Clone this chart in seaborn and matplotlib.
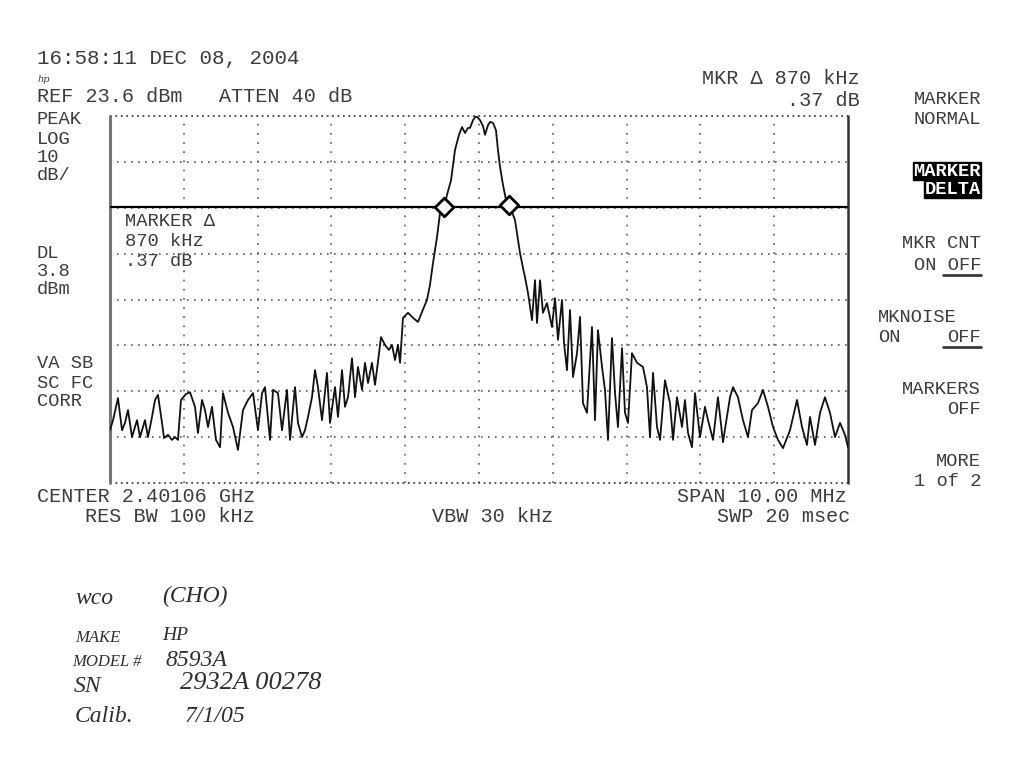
import matplotlib
matplotlib.use("Agg")
import matplotlib.pyplot as plt
from matplotlib.lines import Line2D
import seaborn as sns
import pandas as pd

# ---------------- data ----------------
center_ghz = 2.40106
span_mhz = 10.0
ref_level_dbm = 23.6
db_per_div = 10
display_line_dbm = 3.8

# trace: frequency offset from center (MHz) and level (dBm)
freq_offset_mhz = [
    -5.000, -4.959, -4.892, -4.837, -4.797, -4.756, -4.702, -4.634, -4.593, -4.526,
    -4.485, -4.431, -4.390, -4.350, -4.295, -4.268, -4.214, -4.160, -4.119, -4.079,
    -4.038, -3.970, -3.916, -3.848, -3.808, -3.753, -3.713, -3.672, -3.618, -3.564,
    -3.509, -3.469, -3.401, -3.333, -3.266, -3.198, -3.130, -3.062, -2.995, -2.940,
    -2.900, -2.832, -2.791, -2.724, -2.669, -2.602, -2.561, -2.493, -2.453, -2.398,
    -2.358, -2.317, -2.263, -2.222, -2.182, -2.127, -2.060, -2.019, -1.951, -1.911,
    -1.856, -1.816, -1.775, -1.721, -1.680, -1.640, -1.585, -1.545, -1.504, -1.450,
    -1.409, -1.369, -1.328, -1.274, -1.220, -1.179, -1.138, -1.098, -1.070, -1.030,
    -0.962, -0.894, -0.827, -0.772, -0.705, -0.664, -0.623, -0.569, -0.528, -0.470,
    -0.434, -0.379, -0.325, -0.271, -0.230, -0.190, -0.149, -0.122, -0.081, -0.041,
    -0.014, 0.014, 0.054, 0.081, 0.122, 0.149, 0.190, 0.230, 0.257, 0.285,
    0.325, 0.366, 0.400, 0.447, 0.488, 0.528, 0.556, 0.596, 0.623, 0.664,
    0.718, 0.759, 0.786, 0.827, 0.867, 0.921, 0.989, 1.030, 1.070, 1.125,
    1.152, 1.192, 1.233, 1.274, 1.328, 1.369, 1.409, 1.463, 1.531, 1.572,
    1.612, 1.667, 1.707, 1.748, 1.802, 1.843, 1.883, 1.938, 1.978, 2.019,
    2.073, 2.141, 2.222, 2.276, 2.317, 2.358, 2.412, 2.453, 2.520, 2.588,
    2.629, 2.683, 2.751, 2.791, 2.832, 2.886, 2.927, 2.995, 3.062, 3.103,
    3.171, 3.238, 3.306, 3.401, 3.442, 3.509, 3.577, 3.645, 3.699, 3.780,
    3.848, 3.916, 3.984, 4.051, 4.119, 4.214, 4.309, 4.377, 4.444, 4.485,
    4.553, 4.621, 4.688, 4.756, 4.824, 4.892, 4.959, 5.000,
]
level_dbm = [
    -44.9, -42.7, -37.9, -44.9, -43.3, -40.5, -46.4, -42.7, -46.4, -42.7,
    -46.4, -42.0, -38.3, -37.2, -43.3, -46.6, -45.9, -47.0, -46.4, -47.0,
    -38.3, -37.0, -36.6, -39.8, -45.5, -38.3, -40.5, -44.2, -39.8, -47.0,
    -48.6, -36.8, -41.1, -44.2, -49.2, -40.5, -38.3, -36.8, -44.9, -36.8,
    -35.5, -47.0, -36.1, -36.8, -44.9, -36.1, -47.0, -35.5, -43.3, -46.4,
    -44.9, -42.0, -37.7, -31.8, -35.5, -42.7, -32.4, -43.3, -35.5, -42.0,
    -31.8, -39.8, -37.7, -29.2, -37.7, -31.1, -36.1, -30.2, -34.6, -30.2,
    -35.0, -30.0, -24.6, -26.3, -27.4, -26.3, -29.6, -26.3, -30.2, -20.4,
    -19.3, -20.4, -21.3, -19.1, -16.5, -13.2, -8.4, -2.8, 2.5, 3.8,
    6.4, 9.6, 16.2, 19.5, 21.2, 19.9, 21.0, 21.0, 22.7, 23.6,
    23.2, 22.7, 21.4, 19.5, 21.6, 22.3, 22.1, 20.5, 16.2, 12.5,
    8.6, 5.3, 4.17, 2.7, 0.9, -3.4, -6.3, -9.5, -11.5, -15.0,
    -20.9, -12.2, -21.5, -12.2, -19.3, -17.2, -22.4, -16.1, -25.2, -16.5,
    -25.9, -31.8, -18.7, -33.3, -28.1, -20.2, -39.0, -41.1, -22.4, -42.7,
    -23.1, -31.1, -36.1, -47.0, -24.8, -36.8, -44.2, -27.0, -41.1, -43.3,
    -28.1, -30.2, -31.1, -35.5, -46.4, -32.4, -44.2, -47.0, -34.0, -39.0,
    -47.0, -37.7, -44.2, -38.3, -45.5, -48.6, -36.8, -46.4, -39.8, -42.7,
    -47.0, -37.7, -47.5, -37.7, -35.5, -37.7, -42.7, -46.4, -40.5, -39.0,
    -36.1, -39.8, -44.2, -47.0, -48.8, -44.9, -38.3, -44.2, -48.1, -42.0,
    -48.1, -41.1, -37.7, -41.1, -46.4, -43.3, -45.9, -48.6,
]

# delta markers (reference marker and delta marker)
marker_offset_mhz = [-0.47, 0.40]
marker_level_dbm = [3.8, 4.17]

trace = pd.DataFrame({"freq": freq_offset_mhz, "level": level_dbm})
markers = pd.DataFrame({"freq": marker_offset_mhz, "level": marker_level_dbm})

# ---------------- figure ----------------
sns.set_style("white")
plt.rcParams["font.family"] = ["Liberation Mono", "DejaVu Sans Mono"]

W, H = 1027, 771
fig = plt.figure(figsize=(W / 100, H / 100), dpi=100, facecolor="white")
L, R, T, B = 110, 848, 116, 483
ax = fig.add_axes([L / W, 1 - B / H, (R - L) / W, (B - T) / H])
ax.set_facecolor("white")

ylo = ref_level_dbm - 8 * db_per_div
ax.set_xlim(-span_mhz / 2, span_mhz / 2)
ax.set_ylim(ylo, ref_level_dbm)
ax.set_xticks([-5 + i for i in range(11)])
ax.set_yticks([ylo + db_per_div * i for i in range(9)])
ax.set_xticklabels([])
ax.set_yticklabels([])
ax.tick_params(length=0)
for s in ax.spines.values():
    s.set_visible(False)

grid_col = "#5a5a5a"
for yv in ax.get_yticks()[1:-1]:
    ax.axhline(yv, color=grid_col, lw=1.2, ls=(0, (1, 3.2)), zorder=1)
for xv in ax.get_xticks()[1:-1]:
    ax.axvline(xv, color=grid_col, lw=1.2, ls=(0, (1, 4.5)), zorder=1)
# borders
ax.axhline(ref_level_dbm, color="#444444", lw=1.3, ls=(0, (1, 2)), zorder=1, clip_on=False)
ax.axhline(ylo, color="#444444", lw=1.3, ls=(0, (1, 2)), zorder=1, clip_on=False)
ax.axvline(-span_mhz / 2, color="#777777", lw=2.2, zorder=1, clip_on=False)
ax.axvline(span_mhz / 2, color="#333333", lw=1.8, zorder=1, clip_on=False)

# display line
ax.axhline(display_line_dbm, color="black", lw=1.6, zorder=2)

sns.lineplot(data=trace, x="freq", y="level", ax=ax, color="#111111", lw=1.3,
             sort=False, estimator=None, zorder=3)
sns.scatterplot(data=markers, x="freq", y="level", ax=ax, marker="D", s=90,
                facecolor="white", edgecolor="black", linewidth=2.0, zorder=4)
ax.set_xlabel("")
ax.set_ylabel("")

# ---------------- text ----------------
tc = "#3c3c3c"
fs = 13.5


def t(x, y, s, ha="left", **kw):
    kw.setdefault("color", tc)
    kw.setdefault("fontsize", fs)
    return fig.text(x / W, 1 - y / H, s, ha=ha, va="center", **kw)


t(37, 59, "16:58:11 DEC 08, 2004", fontsize=15)
t(37, 97, "REF 23.6 dBm   ATTEN 40 dB", fontsize=14.5)
t(860, 79, "MKR Δ 870 kHz", ha="right", fontsize=14.5)
t(860, 100, ".37 dB", ha="right", fontsize=14.5)

for y, s in [(120, "PEAK"), (140, "LOG"), (158, "10"), (176, "dB/"),
             (253, "DL"), (271, "3.8"), (289, "dBm"),
             (364, "VA SB"), (383, "SC FC"), (402, "CORR")]:
    t(37, y, s)

t(125, 221, "MARKER Δ")
t(125, 241, "870 kHz")
t(125, 262, ".37 dB")

t(37, 496, "CENTER 2.40106 GHz", fontsize=14.5)
t(85, 517, "RES BW 100 kHz", fontsize=14.5)
t(432, 517, "VBW 30 kHz", fontsize=14.5)
t(847, 496, "SPAN 10.00 MHz", ha="right", fontsize=14.5)
t(850, 517, "SWP 20 msec", ha="right", fontsize=14.5)

# soft keys
kx = 981
t(kx, 100, "MARKER", ha="right")
t(kx, 119, "NORMAL", ha="right")
t(kx, 171, "MARKER", ha="right", color="white", fontweight="bold",
  bbox=dict(facecolor="black", edgecolor="black", pad=0.3))
t(kx, 189, "DELTA", ha="right", color="white", fontweight="bold",
  bbox=dict(facecolor="black", edgecolor="black", pad=0.3))
t(kx, 243, "MKR CNT", ha="right")
t(kx, 266, "ON OFF", ha="right")
t(878, 317, "MKNOISE")
t(878, 337, "ON")
t(kx, 337, "OFF", ha="right")
t(kx, 390, "MARKERS", ha="right")
t(kx, 409, "OFF", ha="right")
t(kx, 462, "MORE", ha="right")
t(kx, 481, "1 of 2", ha="right")

for (x0, x1, y) in [(943, 981, 275), (943, 981, 347)]:
    fig.add_artist(Line2D([x0 / W, x1 / W], [1 - y / H, 1 - y / H],
                          color=tc, lw=2.0, transform=fig.transFigure))

# hp logo scribble
t(38, 79, "hp", fontsize=7, family="DejaVu Serif", style="italic")

# handwritten notes
hw = dict(family="Liberation Serif", style="italic", color="#2e2e2e", fontsize=17)
t(75, 598, "wco", **hw)
t(162, 596, "(CHO)", **hw)
t(75, 638, "MAKE", **{**hw, "fontsize": 12})
t(162, 635, "HP", **{**hw, "fontsize": 14})
t(72, 662, "MODEL #", **{**hw, "fontsize": 12})
t(165, 660, "8593A", **hw)
t(74, 686, "SN", **hw)
t(180, 683, "2932A 00278", **{**hw, "fontsize": 19})
t(75, 717, "Calib.", **hw)
t(185, 716, "7/1/05", **hw)

fig.savefig("out.png", dpi=100, facecolor="white")
